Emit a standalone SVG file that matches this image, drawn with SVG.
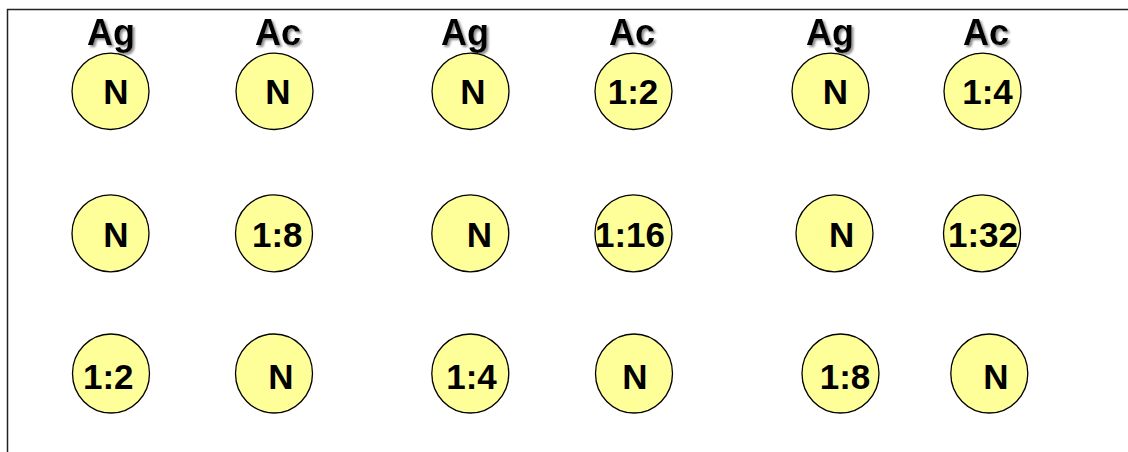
<svg xmlns="http://www.w3.org/2000/svg" width="1128" height="452" viewBox="0 0 1128 452">
  <defs>
    <filter id="shadow" x="-20%" y="-20%" width="150%" height="150%">
      <feDropShadow dx="2" dy="2" stdDeviation="0.8" flood-color="#808080" flood-opacity="0.9"/>
    </filter>
  </defs>
  <style>
    .frame { fill: none; stroke: #222; stroke-width: 1.5; }
    .head { font-family: "Liberation Sans", Arial, sans-serif; font-weight: bold; font-size: 36px; fill: #000; text-anchor: middle; filter: url(#shadow); }
    .well ellipse { fill: #FFFF99; stroke: #000; stroke-width: 1.3; }
    .well text { font-family: "Liberation Sans", Arial, sans-serif; font-weight: bold; font-size: 35px; fill: #000; text-anchor: middle; }
  </style>

  <rect width="1128" height="452" fill="#fff"/>
  <!-- open frame: left and top edges only -->
  <path class="frame" d="M7.5,452 V9.5 H1128"/>

  <!-- column headings -->
  <g id="headings">
    <text class="head" x="111" y="45">Ag</text>
    <text class="head" x="278" y="45">Ac</text>
    <text class="head" x="465" y="45">Ag</text>
    <text class="head" x="632" y="45">Ac</text>
    <text class="head" x="830" y="45">Ag</text>
    <text class="head" x="986" y="45">Ac</text>
  </g>

  <!-- row 1 -->
  <g id="r1c1" class="well"><ellipse cx="110.5" cy="91.3" rx="38.5" ry="38.2"/><text x="116" y="104">N</text></g>
  <g id="r1c2" class="well"><ellipse cx="274.5" cy="91.3" rx="38.5" ry="38.2"/><text x="278" y="104">N</text></g>
  <g id="r1c3" class="well"><ellipse cx="470.5" cy="91.3" rx="38.5" ry="38.2"/><text x="473" y="104">N</text></g>
  <g id="r1c4" class="well"><ellipse cx="633.5" cy="91.3" rx="38.5" ry="38.2"/><text x="633" y="104">1:2</text></g>
  <g id="r1c5" class="well"><ellipse cx="830.5" cy="91.3" rx="38.5" ry="38.2"/><text x="835.5" y="104">N</text></g>
  <g id="r1c6" class="well"><ellipse cx="982.5" cy="91.3" rx="38.5" ry="38.2"/><text x="987.5" y="104">1:4</text></g>

  <!-- row 2 -->
  <g id="r2c1" class="well"><ellipse cx="110.5" cy="233.3" rx="38.5" ry="38.5"/><text x="116" y="246.5">N</text></g>
  <g id="r2c2" class="well"><ellipse cx="274" cy="233.3" rx="38.5" ry="38.5"/><text x="277.3" y="246.5">1:8</text></g>
  <g id="r2c3" class="well"><ellipse cx="470.3" cy="233.3" rx="38.5" ry="38.5"/><text x="479.5" y="246.5">N</text></g>
  <g id="r2c4" class="well"><ellipse cx="633.5" cy="233.3" rx="38.5" ry="38.5"/><text x="630" y="246.5">1:16</text></g>
  <g id="r2c5" class="well"><ellipse cx="834.5" cy="233.3" rx="38.5" ry="38.5"/><text x="841.7" y="246.5">N</text></g>
  <g id="r2c6" class="well"><ellipse cx="982" cy="233.3" rx="38.5" ry="38.5"/><text x="983" y="246.5">1:32</text></g>

  <!-- row 3 -->
  <g id="r3c1" class="well"><ellipse cx="111" cy="373.5" rx="38.5" ry="39.5"/><text x="108.3" y="389">1:2</text></g>
  <g id="r3c2" class="well"><ellipse cx="274" cy="373.5" rx="38.5" ry="39.5"/><text x="281" y="389">N</text></g>
  <g id="r3c3" class="well"><ellipse cx="470.3" cy="373.5" rx="38.5" ry="39.5"/><text x="471.5" y="389">1:4</text></g>
  <g id="r3c4" class="well"><ellipse cx="634" cy="373.5" rx="38.5" ry="39.5"/><text x="635" y="389">N</text></g>
  <g id="r3c5" class="well"><ellipse cx="840.5" cy="373.5" rx="38.5" ry="39.5"/><text x="845" y="389">1:8</text></g>
  <g id="r3c6" class="well"><ellipse cx="989.3" cy="373.5" rx="38.5" ry="39.5"/><text x="996" y="389">N</text></g>
</svg>
